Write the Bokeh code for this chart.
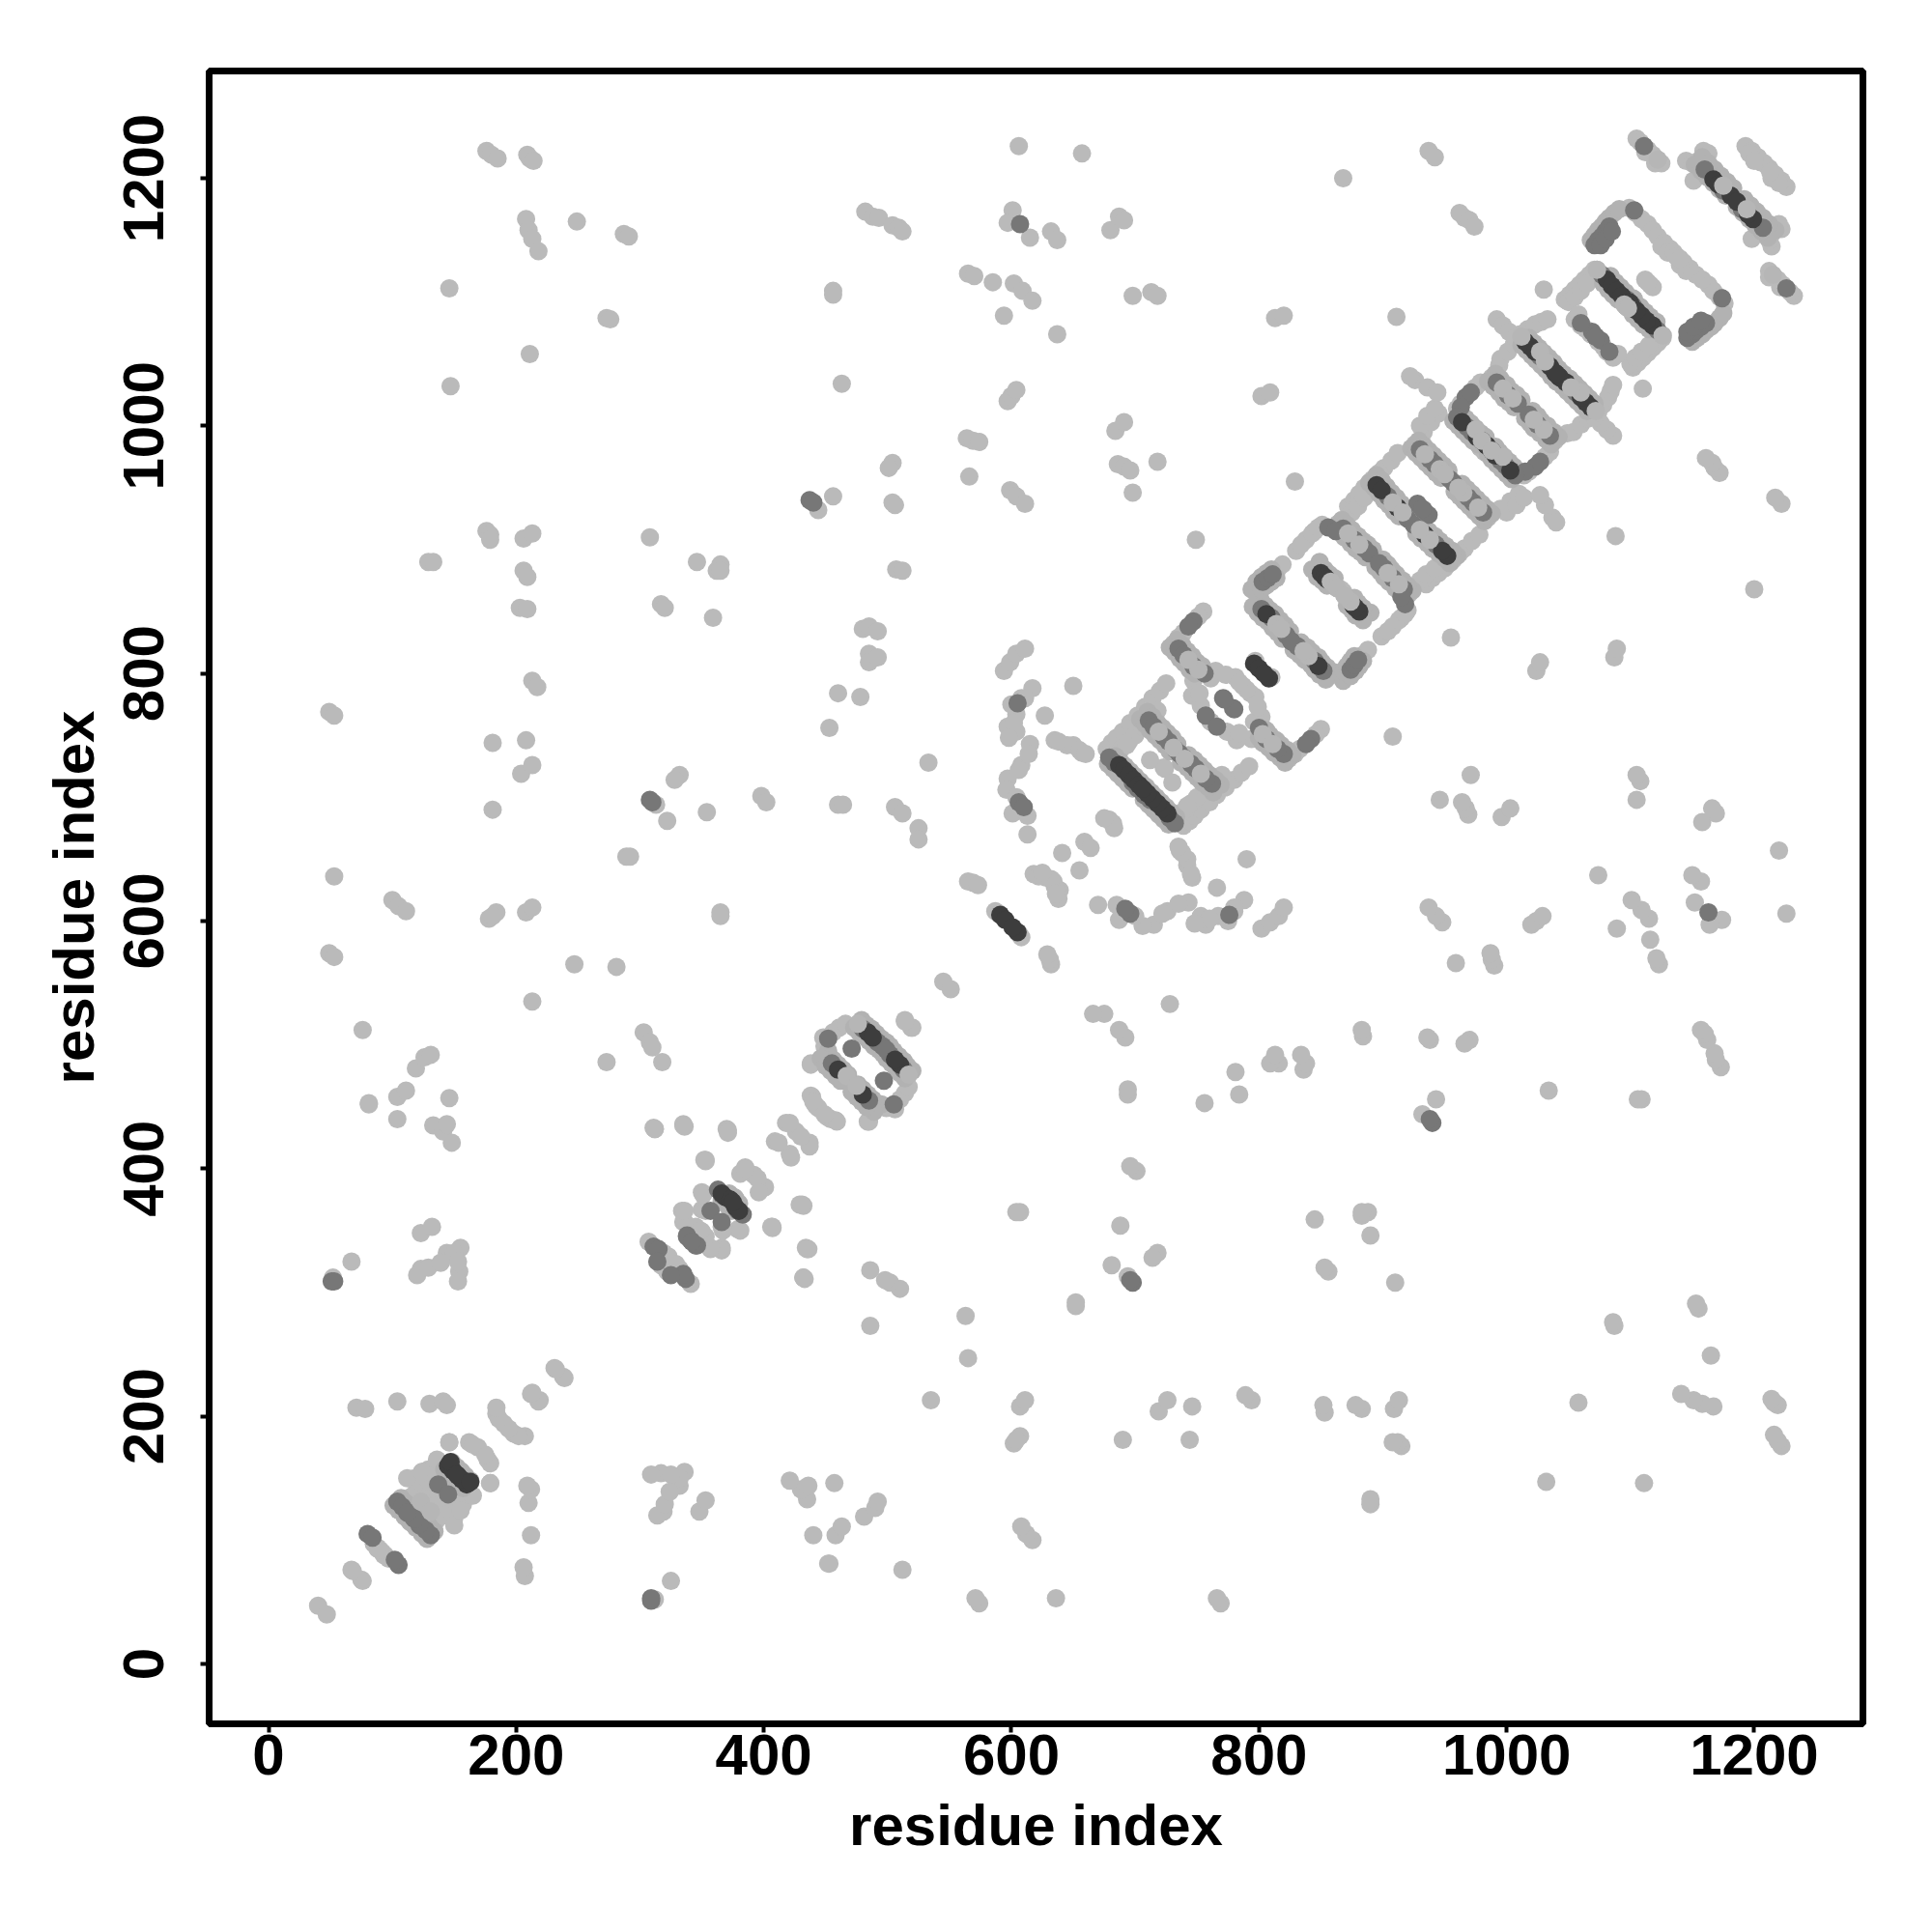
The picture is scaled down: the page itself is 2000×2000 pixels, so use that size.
from bokeh.plotting import figure
from bokeh.embed import file_html
from bokeh.resources import INLINE
from bokeh.models import Range1d, FixedTicker

# residue contact pairs (i < j); the matrix is symmetric
far_i = [176,180,185,209,211,214,208,210,213,218,249,287,291,146,273,276,211,147,463,456,456]
far_j = [1222,1219,1216,1219,1216,1214,1167,1158,1151,1141,1165,1155,1153,1111,1087,1086,1058,1032,1034,1109,1106]

top_i = [482,488,493,504,509,512,565,570,606,657,868,937,942,601,597,615,632,637,680,687,691]
top_j = [1173,1169,1168,1162,1160,1157,1123,1121,1226,1220,1200,1222,1217,1174,1164,1152,1157,1150,1158,1169,1166]

upper_i = [585,594,602,609,617,637,698,713,718,911,1030,962,966,970,974,813,820,597,600,604]
upper_j = [1116,1089,1115,1109,1101,1074,1105,1108,1105,1088,1110,1172,1168,1166,1161,1087,1089,1020,1024,1029]

row_a_i = [564,569,574,566,599,604,611,684,691,686,691,696,698,718,802,809,829,749,504,501]
row_a_j = [990,988,987,959,948,943,937,996,1003,969,967,964,946,971,1024,1027,955,908,970,966]

row_b_i = [504,506,444,456,507,512,308,346,362,365,365,317,320,359,129,133,176,179,179,206,213]
row_b_j = [938,936,932,943,884,883,910,890,883,888,883,856,853,845,890,890,915,912,908,909,913]

row_c_i = [206,209,203,209,213,217,181,208,204,213,181,49,53,332,328,313,322,354,398,402,460,464]
row_c_j = [883,878,853,852,794,789,744,746,719,726,690,769,766,718,714,694,681,688,701,696,694,694]

row_d_i = [506,512,525,525,289,292,53,100,105,111,178,184,181,208,213,49,53,213,247,281,365,365]
row_d_j = [692,687,675,666,652,652,636,617,612,608,602,607,604,607,611,574,571,535,565,563,607,604]

row_e_i = [76,81,104,104,111,119,126,131,146,133,141,148,144,273,303,308,310,318,311,335,370,352]
row_e_j = [512,453,440,458,463,481,490,492,457,435,430,421,436,486,510,502,498,486,433,436,432,407]

mid_far_i = [438,485,480,485,492,485,492,460,478,453,533,627,650,635,645,657,594,599,604,611]
mid_far_j = [485,816,836,838,834,809,813,784,781,756,728,766,790,746,742,736,802,809,816,820]

column_i = [617,608,604,597,604,615,608,597,606,601,613,613,611,600,602,598,614,606,596,604]
column_j = [788,780,767,757,753,743,726,715,696,687,685,670,780,775,760,748,735,722,706,700]

near_i = [679,659,641,624,628,634,639,618,622,565,569,573,545,514,519,407,429,434,432,123,132]
near_j = [682,664,655,637,635,632,625,638,636,632,631,629,551,520,514,353,371,336,312,348,353]

low_i = [144,155,154,153,123,120,129,150,153,139,81,67,52,40,67,75,85,88,92,94]
low_j = [332,336,317,309,319,314,320,332,325,324,452,325,312,47,76,68,97,93,90,88]

diag_i = [123,132,148,155,123,129,161,179,146,162,169,177,184,190,198,207,212,219,231,238,71,78,104,130,141,144]
diag_j = [131,124,129,124,152,157,144,146,179,179,175,165,202,194,186,184,218,213,239,232,207,206,212,210,212,209]

strand_a_i = [307,319,323,317,334,336,345,350,357,366,350,350,366,379,385,392,400,381,353,335,312,371]
strand_a_j = [341,332,329,322,366,357,353,349,335,336,381,367,353,351,401,395,385,396,406,435,432,431]

strand_b_i = [409,421,418,426,437,439,442,454,484,449,456,461,466,448,467,479,486,512,503,438,444,476]
strand_b_j = [422,412,437,430,421,458,451,440,438,499,510,514,517,506,475,464,457,482,491,459,449,517]

bandt_i = [1105,1108,1114,1118,1122,1125,1112,1120,1145,1151,1159,1163,1150,1155,1160,1170,1175,1180,1184,1158]
bandt_j = [1232,1229,1223,1219,1215,1212,1221,1212,1214,1198,1222,1220,1212,1214,1209,1203,1194,1192,1185,1204]

bandu_i = [1193,1198,1203,1208,1212,1214,1196,1205,1099,1104,1109,1114,1118,1122,1127,1132,1137,1125,1130,1135]
bandu_j = [1226,1222,1217,1212,1208,1200,1220,1213,1176,1172,1167,1163,1158,1153,1148,1143,1137,1145,1140,1140]

bandv_i = [1047,1051,1055,1059,1063,1067,1071,1050,1055,1060,1065,1055,1060,1064,1068,1058,1073,1112,1116,994,995,1001,1006]
bandv_j = [1102,1106,1110,1114,1118,1122,1126,1100,1104,1109,1115,1086,1081,1078,1074,1090,1126,1118,1114,1049,1054,1060,1066]

bandw_i = [1011,1017,1023,1028,1033,992,997,1002,1007,988,997,1005,1013,994,1002,1009,1031,1011,960,963,975,979,980]
bandw_j = [1074,1078,1082,1084,1086,1086,1081,1076,1071,1039,1030,1022,1014,1032,1024,1016,1052,1072,1014,1018,1031,1035,988]

bandx_i = [933,939,945,930,936,942,926,936,944,922,982,926,934,946,950,958,872,877,881,885,890,895,901,907,912]
bandx_j = [995,1003,1010,1000,1008,1014,1037,1031,1027,1040,979,985,977,965,961,954,935,940,945,950,955,960,966,972,978]

bandy_i = [875,880,885,892,897,908,916,924,864,872,881,851,845,838,830,834,843,848,815,819,858,863,868,798,814,818,830]
bandy_j = [930,935,942,957,962,939,930,922,921,913,904,920,915,908,899,904,913,918,884,888,874,869,866,857,840,836,822]

bandz_i = [731,743,751,761,755,751,739,735,810,765,773,781,787,793,747,746,753,761,752,677,681,685,690,696,702,708,714,720,725,719,731,723,716,712]
bandz_j = [824,811,803,796,850,846,833,829,797,802,799,797,790,784,794,782,774,761,784,739,744,748,753,760,766,773,780,786,792,753,740,724,694,730]

bandl_i = [695,700,706,712,718,688,693,638,650,655,660,587,606,678,683]
bandl_j = [745,750,757,764,770,738,742,745,742,738,735,608,590,682,675]

extra_i = [118,125,130,135,140,128,120,115,112,124,136,145,150]
extra_j = [150,145,140,145,140,135,142,135,150,155,165,140,135]

mid_i = [1111,1160,1175,1103,1077,1097,1071,1074,1077,1080,1083,1076,1080,1085,1069,1072,1060,1027,992,1001,1009,967,971,963,960,968,972,930,938,942,954,904,928,933,920]
mid_j = [1226,1207,1190,1174,1122,1102,1146,1150,1153,1157,1161,1146,1151,1157,1076,1072,1083,1056,1035,1025,1018,1023,1027,1015,1007,999,995,981,973,969,957,943,937,932,925]

mid2_i = [868,877,885,889,856,862,803,807,811,802,810,822,826,735,739,747,756,747,743,757,771,779,711,715,723,727,735,739,683,679,707,712]
mid2_j = [917,908,901,897,918,915,874,877,880,852,845,831,826,820,815,806,800,842,838,766,780,772,762,757,749,745,736,732,728,732,702,698]

mid3_i = [480,492,496,452,455,471,311,315,314,338,345,341,357,379,383,80,84,104,108,113,117,122,137,51,53,308,310,607,437,440,605,606,610]
mid3_j = [513,502,499,505,485,497,337,335,325,346,338,342,366,366,363,105,102,131,127,122,118,112,145,309,309,698,696,1163,940,938,776,696,692]

dark_i = [1167,1171,1181,1081,1085,1089,1093,1100,1015,1019,1023,1035,1039,1042,964,976,984,988,895,899,912,850,853,876,806,796,800,687,691,695,699,703,707,591,595,484,488,460,369,366,373,145,149,153,147]
dark_j = [1199,1195,1186,1118,1113,1109,1105,1099,1068,1064,1060,1048,1043,1040,1003,991,984,980,952,948,934,881,878,855,848,808,804,726,722,718,714,710,706,605,601,510,506,480,377,380,375,160,156,152,163]

shade_a_i = [1084,1088,1092,1096,1103,1078,1082,1086,1090,1097,1018,1022,1026,1030,1034,1038,1042,1012,1016,1020,1024,1028,1032,1036]
shade_a_j = [1121,1116,1112,1108,1102,1115,1110,1106,1102,1096,1071,1067,1063,1059,1055,1051,1046,1065,1061,1057,1053,1049,1045,1040]

shade_b_i = [991,995,1000,1004,1008,1012,985,989,994,998,1002,1006,963,967,971,975,979,983,957,961,965,969,973,977]
shade_b_j = [1042,1038,1033,1028,1025,1021,1036,1032,1027,1022,1019,1015,1010,1006,1002,998,994,991,1004,1000,996,992,988,985]

shade_c_i = [929,933,937,941,945,949,953,923,927,931,935,939,943,947,895,899,903,907,911,915,919,889,893,897,901,905,909,913]
shade_c_j = [988,984,980,976,972,968,964,982,978,974,970,966,962,958,960,956,951,946,942,937,933,954,950,945,940,936,931,927]

shade_d_i = [867,871,875,880,884,888,892,861,865,869,874,878,882,886,849,853,857,861,843,847,851,855]
shade_d_j = [924,920,916,911,907,904,900,918,914,910,905,901,898,894,890,884,880,877,884,878,875,871]

shade_e_i = [801,805,809,813,817,821,825,795,799,803,807,811,815,819,794,798,802,806,810,802,806,810,814]
shade_e_j = [860,855,851,848,843,839,834,854,849,845,842,837,833,828,868,874,878,881,884,868,871,874,877]

shade_f_i = [734,738,742,746,750,754,728,732,736,740,744,748,710,714,718,722,726,730,734,704,708,712,716,720,724,728]
shade_f_j = [827,823,818,814,809,806,821,817,812,808,803,800,769,765,760,756,752,748,743,763,759,754,750,746,742,737]

shade_g_i = [684,688,692,696,700,704,708,678,682,686,690,694,698,1158,1163,1168,1173,1178,1183,1152,1157,1162,1167,1172,1177]
shade_g_j = [733,729,725,721,717,713,709,727,723,719,715,711,707,1217,1212,1207,1202,1197,1192,1211,1206,1201,1196,1191,1186]

shade_h_i = [1068,1071,1074,1077,1080,1083,1087,1091,479,483,487,491,495,499,473,477,481,485,489,493]
shade_h_j = [1150,1154,1158,1161,1165,1168,1172,1175,520,516,513,509,505,502,514,510,507,503,499,496]

shade_k_i = [452,456,460,464,468,446,450,454,458,462,107,111,116,120,101,105,110,114,148,152,156,142,146,150,372,376,366,370]
shade_k_j = [495,488,484,480,476,489,483,479,475,471,134,130,125,121,128,124,119,115,163,159,155,157,153,149,380,377,374,371]

over_i = [1073,1095,1027,1031,1012,997,1005,975,980,934,946,950,908,916,872,881,858,863,814,818,751,743,719,731,476,467,1175,1122,123]
over_j = [1126,1098,1060,1052,1072,1030,1022,997,988,977,965,961,938,930,913,904,874,869,840,836,803,811,753,740,517,475,1194,1215,131]

ticks = [0, 200, 400, 600, 800, 1000, 1200]
xlabel = "residue index"
ylabel = "residue index"

light_i = (far_i + top_i + upper_i + row_a_i + row_b_i + row_c_i + row_d_i + row_e_i + mid_far_i + column_i
           + near_i + low_i + diag_i + strand_a_i + strand_b_i + bandt_i + bandu_i + bandv_i + bandw_i
           + bandx_i + bandy_i + bandz_i + bandl_i + extra_i)
light_j = (far_j + top_j + upper_j + row_a_j + row_b_j + row_c_j + row_d_j + row_e_j + mid_far_j + column_j
           + near_j + low_j + diag_j + strand_a_j + strand_b_j + bandt_j + bandu_j + bandv_j + bandw_j
           + bandx_j + bandy_j + bandz_j + bandl_j + extra_j)
medium_i = mid_i + mid2_i + mid3_i
medium_j = mid_j + mid2_j + mid3_j
shade_i = shade_a_i + shade_b_i + shade_c_i + shade_d_i + shade_e_i + shade_f_i + shade_g_i + shade_h_i + shade_k_i
shade_j = shade_a_j + shade_b_j + shade_c_j + shade_d_j + shade_e_j + shade_f_j + shade_g_j + shade_h_j + shade_k_j

p = figure(frame_width=1712, frame_height=1711, output_backend="svg", toolbar_location=None,
           x_range=Range1d(-48, 1287.8), y_range=Range1d(-48.4, 1286.6),
           min_border_left=216, min_border_top=73, min_border_right=58, min_border_bottom=190,
           background_fill_color="white", border_fill_color="white")
p.grid.visible = False
p.outline_line_color = "black"
p.outline_line_width = 7

for xs, ys, colour in [(light_i, light_j, "#bababa"), (shade_i, shade_j, "#b2b2b2"),
                       (medium_i, medium_j, "#777777"), (dark_i, dark_j, "#3d3d3d"),
                       (over_i, over_j, "#b6b6b6")]:
    p.scatter(xs + ys, ys + xs, size=19, fill_color=colour, line_color=None)

for ax, lab in [(p.xaxis[0], xlabel), (p.yaxis[0], ylabel)]:
    ax.ticker = FixedTicker(ticks=ticks)
    ax.axis_line_color = None
    ax.major_tick_in = 0
    ax.major_tick_out = 9
    ax.major_tick_line_width = 4
    ax.major_tick_line_color = "black"
    ax.minor_tick_line_color = None
    ax.major_label_text_font = "Liberation Sans"
    ax.major_label_text_font_style = "bold"
    ax.major_label_text_font_size = "60px"
    ax.major_label_text_color = "black"
    ax.axis_label = lab
    ax.axis_label_text_font = "Liberation Sans"
    ax.axis_label_text_font_style = "bold"
    ax.axis_label_text_font_size = "60px"
    ax.axis_label_text_color = "black"
p.xaxis[0].major_label_standoff = 2
p.xaxis[0].axis_label_standoff = 16
p.yaxis[0].major_label_standoff = 38
p.yaxis[0].major_label_orientation = "vertical"
p.yaxis[0].axis_label_standoff = 16

open("out.html", "w").write(file_html(p, INLINE))
